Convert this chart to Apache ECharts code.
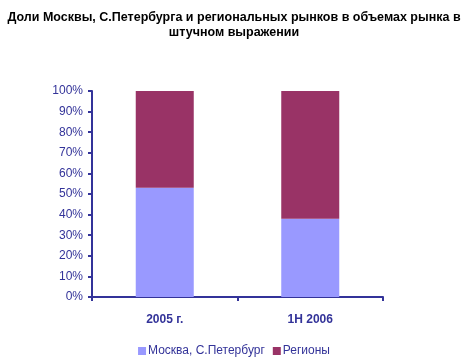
<!DOCTYPE html>
<html><head><meta charset="utf-8">
<script src="https://cdn.jsdelivr.net/npm/echarts@6/dist/echarts.min.js"></script>
<style>html,body{margin:0;padding:0;background:#fff}#c{width:468px;height:360px}</style>
</head><body><div id="c"></div>
<script>
var categories = ['2005 г.', '1H 2006'];
var moscowSpb = [53, 38];
var regions = [47, 62];
var seriesNames = ['Москва, С.Петербург', 'Регионы'];
var titleText = 'Доли Москвы, С.Петербурга и региональных рынков в объемах рынка в\nштучном выражении';

var chart = echarts.init(document.getElementById('c'));
var axisColor = '#333399';
var font = 'Liberation Sans';
chart.setOption({
  animation: false,
  title: {
    text: titleText,
    left: 'center', top: 5,
    textStyle: {fontFamily: font, fontSize: 12.5, fontWeight: 'bold', color: '#000', lineHeight: 15}
  },
  legend: {
    bottom: -2, left: 'center', itemWidth: 8, itemHeight: 8, itemGap: 8,
    icon: 'rect',
    textStyle: {fontFamily: font, fontSize: 12, color: axisColor, padding: [0,0,0,-3]},
    data: seriesNames
  },
  grid: {left: 92, right: 85, top: 91, bottom: 63},
  xAxis: {
    type: 'category', data: categories,
    axisLine: {lineStyle: {color: axisColor, width: 2}},
    axisTick: {show: true, length: 4, lineStyle: {color: axisColor, width: 2}},
    axisLabel: {fontFamily: font, fontSize: 12, fontWeight: 'bold', color: axisColor, margin: 17}
  },
  yAxis: {
    type: 'value', min: 0, max: 100, interval: 10,
    axisLine: {show: true, lineStyle: {color: axisColor, width: 2}},
    axisTick: {show: true, length: 4, lineStyle: {color: axisColor, width: 2}},
    splitLine: {show: false},
    axisLabel: {formatter: '{value}%', fontFamily: font, fontSize: 12, color: axisColor, margin: 9}
  },
  series: [
    {name: seriesNames[0], type: 'bar', stack: 's', data: moscowSpb, barWidth: 58, itemStyle: {color: '#9999FF'}},
    {name: seriesNames[1], type: 'bar', stack: 's', data: regions, barWidth: 58, itemStyle: {color: '#993366'}}
  ]
});
</script></body></html>
